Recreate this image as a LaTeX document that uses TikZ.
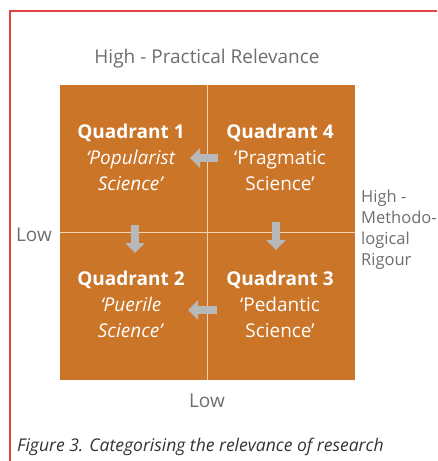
\documentclass[tikz,border=0pt]{standalone}
\usepackage{fontspec}
\setmainfont{Open Sans}
\usepackage{xcolor}
\usetikzlibrary{arrows.meta,positioning}

\definecolor{quadorange}{HTML}{CB7529}
\definecolor{framered}{HTML}{E2453F}
\definecolor{axisgray}{HTML}{6E6E6E}
\definecolor{movegray}{HTML}{B7B8BA}
\definecolor{divline}{HTML}{F1D2B2}

\begin{document}
\begin{tikzpicture}[
  x=1pt, y=-1pt,
  axis/.style={text=axisgray,font=\fontsize{19}{21}\selectfont,inner sep=0pt},
  quad/.style={text=white,align=center,inner sep=0pt,font=\fontsize{19}{26}\selectfont},
  divider/.style={draw=divline,line width=1.3pt},
  move/.style={draw=movegray,line width=8pt,-{Triangle[width=19pt,length=10pt]}},
]
\useasboundingbox (0,0) rectangle (437,461);
\draw[framered,line width=2.5pt] (437,11) -- (10,11) -- (10,461);

\node[fill=quadorange,minimum size=295pt,inner sep=0pt] (grid) at (207.5,232.5) {};
\draw[divider] (grid.north) -- (grid.south);
\draw[divider] (grid.west) -- (grid.east);

\node[quad] (q1) at (131,157) {\textbf{Quadrant 1}\\\textit{`Popularist}\\\textit{Science'}};
\node[quad] (q4) at (280,157) {\textbf{Quadrant 4}\\`Pragmatic\\Science'};
\node[quad] (q2) at (131,304) {\textbf{Quadrant 2}\\\textit{`Puerile}\\\textit{Science'}};
\node[quad] (q3) at (280,304) {\textbf{Quadrant 3}\\`Pedantic\\Science'};

% arrow ends
\coordinate (a14) at (218,158);  \coordinate (b14) at (190,158);
\coordinate (a12) at (135,225);  \coordinate (b12) at (135,253);
\coordinate (a43) at (276,222);  \coordinate (b43) at (276,250);
\coordinate (a32) at (217,310);  \coordinate (b32) at (188,310);
\draw[move] (a14) -- (b14);
\draw[move] (a12) -- (b12);
\draw[move] (a43) -- (b43);
\draw[move] (a32) -- (b32);

\node[axis] (top) at (207,59) {High - Practical Relevance};
\node[axis] (left) at (34,235) {Low};
\node[axis] (bottom) at (207,401) {Low};
\node[axis,anchor=west,align=left,font=\fontsize{16.5}{21}\selectfont] (right) at (361,230) {High -\\Methodo-\\logical\\Rigour};

\node[anchor=west,inner sep=0pt,text=black!80,font=\fontsize{17.5}{19}\selectfont\itshape] (caption) at (17,447) {Figure 3. Categorising the relevance of research};
\end{tikzpicture}
\end{document}
